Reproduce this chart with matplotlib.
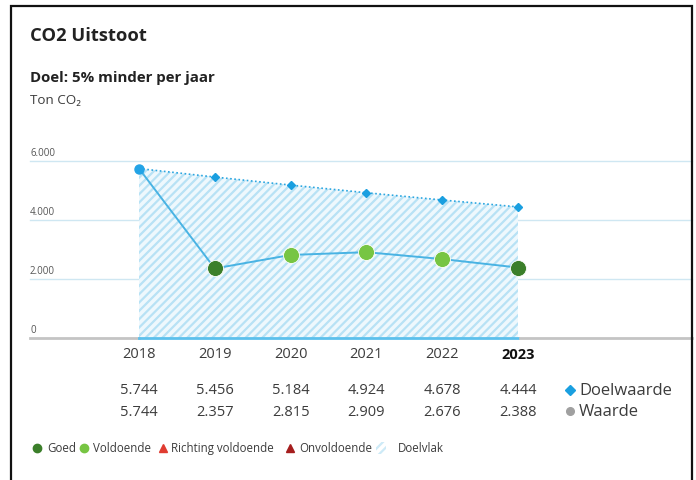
import matplotlib
matplotlib.use("Agg")
import matplotlib.pyplot as plt
from matplotlib.patches import Rectangle
from matplotlib.lines import Line2D
from matplotlib.transforms import blended_transform_factory

plt.rcParams['font.family'] = ['Open Sans', 'DejaVu Sans']
plt.rcParams['hatch.linewidth'] = 1.6

years = [2018, 2019, 2020, 2021, 2022, 2023]
doelwaarde = [5744, 5456, 5184, 4924, 4678, 4444]
waarde = [5744, 2357, 2815, 2909, 2676, 2388]
doel_labels = ["5.744", "5.456", "5.184", "4.924", "4.678", "4.444"]
waarde_labels = ["5.744", "2.357", "2.815", "2.909", "2.676", "2.388"]
status = [None, "Goed", "Voldoende", "Voldoende", "Voldoende", "Goed"]
y_ticks = [0, 2000, 4000, 6000]
y_tick_labels = ["0", "2.000", "4.000", "6.000"]

status_colors = {"Goed": "#3b7f2a", "Voldoende": "#77c543"}
blue = "#2ba6e0"
text_col = "#3c3c3c"

W, H = 696, 481
fig = plt.figure(figsize=(W / 100, H / 100), dpi=100)
fig.patch.set_facecolor("white")

def fx(px):
    return px / W

def fy(py):
    return 1 - py / H

# frame
fig.patches.append(Rectangle((fx(11), -0.05), fx(692) - fx(11), fy(7) + 0.05,
                             transform=fig.transFigure, fill=False,
                             edgecolor="#111111", linewidth=1.6))

fig.text(fx(30), fy(36), "CO2 Uitstoot", fontsize=13.2, fontweight="bold",
         color="#222222", va="center")
fig.text(fx(30), fy(78), "Doel: 5% minder per jaar", fontsize=10.8,
         fontweight="bold", color="#222222", va="center")
fig.text(fx(30), fy(100), "Ton CO₂", fontsize=9.6, color=text_col, va="center")

ax = fig.add_axes([fx(30), fy(339), fx(692) - fx(30), fy(162) - fy(339)])
xmin = 2018 - (139 - 30) / 75.8
xmax = 2023 + (692 - 518) / 75.8
ax.set_xlim(xmin, xmax)
ax.set_ylim(0, 6000)
ax.axis("off")

# gridlines
for t in y_ticks[1:]:
    ax.axhline(t, color="#cfe7f2", linewidth=1, zorder=0, clip_on=False)
ytr = blended_transform_factory(ax.transAxes, ax.transData)
for t, lab in zip(y_ticks, y_tick_labels):
    ax.text(0, t + 300, lab, transform=ytr, fontsize=7, color="#555555",
            va="center", ha="left")

# target area
ax.fill_between(years, 0, doelwaarde, facecolor="#eef8fd", edgecolor="#b8e2f5",
                hatch="////", linewidth=0, zorder=1)

# baseline
ax.plot([xmin, 2018], [0, 0], color="#c4c4c4", linewidth=2, clip_on=False, zorder=2)
ax.plot([2018, 2023], [0, 0], color="#5cc0ec", linewidth=2, clip_on=False, zorder=2)
ax.plot([2023.03, xmax], [0, 0], color="#c4c4c4", linewidth=2, clip_on=False, zorder=2)

# target line
ax.plot(years, doelwaarde, linestyle=(0, (1, 1.5)), color=blue, linewidth=1.2,
        zorder=3)
ax.plot(years[1:], doelwaarde[1:], linestyle="none", marker="D", markersize=4.5,
        color="#1a9fe0", zorder=4)

# values
ax.plot(years, waarde, color="#49b3e3", linewidth=1.4, zorder=3)
ax.plot(years[0], waarde[0], marker="o", markersize=6.5, color="#22a3e6",
        linestyle="none", zorder=5)
for x, v, s in zip(years, waarde, status):
    if s is not None:
        ax.plot(x, v, marker="o", markersize=11.5, color=status_colors[s],
                markeredgecolor="white", markeredgewidth=0.6, linestyle="none",
                zorder=5)

# table below
tr = blended_transform_factory(ax.transData, fig.transFigure)
for i, yr in enumerate(years):
    ax.text(yr, fy(355), str(yr), transform=tr, ha="center", va="center",
            fontsize=10.5, color=("#111111" if yr == 2023 else text_col),
            fontweight=("bold" if yr == 2023 else "normal"), clip_on=False)
    ax.text(yr, fy(391), doel_labels[i], transform=tr, ha="center", va="center",
            fontsize=10.5, color=text_col, clip_on=False)
    ax.text(yr, fy(412), waarde_labels[i], transform=tr, ha="center", va="center",
            fontsize=10.5, color=text_col, clip_on=False)

fig.add_artist(Line2D([fx(570)], [fy(391)], marker="D", markersize=5,
                      color="#1a9fe0", linestyle="none"))
fig.text(fx(579), fy(391), "Doelwaarde", fontsize=12, color=text_col, va="center")
fig.add_artist(Line2D([fx(570)], [fy(412)], marker="o", markersize=5.5,
                      color="#a0a0a0", linestyle="none"))
fig.text(fx(579), fy(412), "Waarde", fontsize=12, color=text_col, va="center")

# bottom legend
ly = fy(449)
legend_items = [
    (37, "o", "#3b7f2a", 47, "Goed"),
    (84, "o", "#77c543", 93, "Voldoende"),
    (163, "^", "#e03c31", 171, "Richting voldoende"),
    (290, "^", "#a51d1d", 299, "Onvoldoende"),
]
for mx, mk, col, tx, lab in legend_items:
    fig.add_artist(Line2D([fx(mx)], [ly], marker=mk, markersize=6, color=col,
                          linestyle="none"))
    fig.text(fx(tx), ly, lab, fontsize=8.3, color=text_col, va="center")
fig.patches.append(Rectangle((fx(376), ly - 0.012), fx(10), 0.024,
                             transform=fig.transFigure, facecolor="white",
                             edgecolor="#cdeaf7", hatch="////", linewidth=0))
fig.text(fx(398), ly, "Doelvlak", fontsize=8.3, color=text_col, va="center")

fig.savefig("out.png", dpi=100)
